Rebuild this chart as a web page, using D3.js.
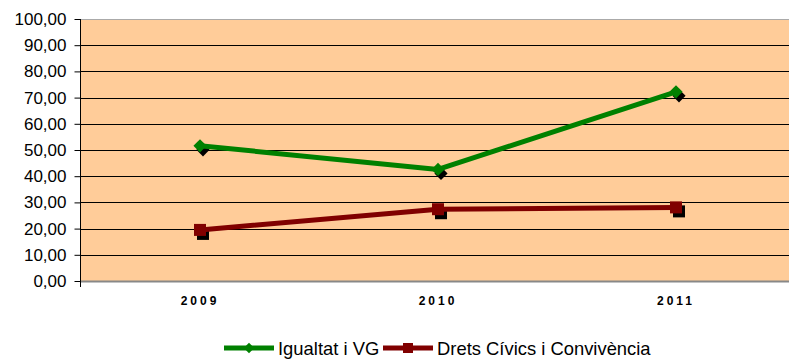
<!DOCTYPE html>
<html><head><meta charset="utf-8">
<script src="https://cdn.jsdelivr.net/npm/d3@7"></script>
<style>body{margin:0;background:#fff}svg{display:block}</style>
</head><body>
<svg id="c" width="789" height="361"></svg>
<script>
const categories = ["2009", "2010", "2011"];
const seriesNames = ["Igualtat i VG", "Drets Cívics i Convivència"];
const igualtat = [51.6, 42.6, 72.2];
const drets = [19.5, 27.4, 28.1];
const yTicks = [0, 10, 20, 30, 40, 50, 60, 70, 80, 90, 100];

(function () {
const svg = d3.select("#c");
const pL = 81, pR = 795, pT = 19, pB = 281;
const x = d3.scaleBand().domain(categories).range([pL, pR]);
const y = d3.scaleLinear().domain([0, 100]).range([pB, pT]);
const fmt = v => d3.format(".2f")(v).replace(".", ",");
const FONT = "Arial, 'Liberation Sans', sans-serif";

svg.append("rect").attr("x", pL).attr("y", pT).attr("width", pR - pL).attr("height", pB - pT).attr("fill", "#FFCC99");

// gridlines
svg.append("g").selectAll("line").data(yTicks.filter(d => d > 0 && d < 100)).join("line")
  .attr("x1", pL).attr("x2", pR).attr("y1", d => Math.round(y(d)) + 0.5).attr("y2", d => Math.round(y(d)) + 0.5)
  .attr("stroke", "#000").attr("stroke-width", 1);
// top border
svg.append("line").attr("x1", pL).attr("x2", pR).attr("y1", pT + 0.5).attr("y2", pT + 0.5).attr("stroke", "#aaa");

// y axis
const yAxis = d3.axisLeft(y).tickValues(yTicks).tickFormat(fmt).tickSize(6).tickPadding(8);
const gy = svg.append("g").attr("transform", `translate(${pL - 0.5},0)`).call(yAxis);
gy.select(".domain").attr("stroke", "#000").attr("d", `M0,${pT}V${pB + 6}`);
gy.selectAll(".tick line").attr("stroke", "#000");
gy.selectAll("text").attr("font-family", FONT).attr("font-size", 17).attr("fill", "#000");

// x axis
const xAxis = d3.axisBottom(x).tickSize(0).tickPadding(15);
const gx = svg.append("g").attr("transform", `translate(0,${pB + 0.5})`).call(xAxis);
gx.select(".domain").attr("stroke", "#888").attr("stroke-width", 2).attr("d", `M${pL},0H${pR}`);
gx.selectAll("text").attr("font-family", FONT).attr("font-size", 12)
  .attr("font-weight", "bold").attr("letter-spacing", "3px").attr("fill", "#000");

const series = [
  { name: seriesNames[0], values: igualtat, color: "#008000", shape: "diamond" },
  { name: seriesNames[1], values: drets, color: "#800000", shape: "square" }
];
const cx = c => x(c) + x.bandwidth() / 2;
const line = d3.line().x((d, i) => cx(categories[i])).y(d => y(d));
function marker(g, shape, color, px, py) {
  if (shape === "diamond") {
    g.append("path").attr("d", d3.symbol(d3.symbolDiamond2, 110)()).attr("transform", `translate(${px},${py})`).attr("fill", color);
  } else {
    g.append("rect").attr("x", px - 6).attr("y", py - 6).attr("width", 12).attr("height", 12).attr("fill", color);
  }
}
series.forEach(s => {
  const g = svg.append("g");
  s.values.forEach((v, i) => marker(g, s.shape, "#000", cx(categories[i]) + 3, y(v) + 4));
  g.append("path").attr("d", line(s.values)).attr("fill", "none").attr("stroke", s.color).attr("stroke-width", 5).attr("stroke-linejoin", "round");
  s.values.forEach((v, i) => marker(g, s.shape, s.color, cx(categories[i]), y(v)));
});

// legend
const leg = svg.append("g");
const legItems = [{ x0: 224, tx: 278 }, { x0: 383, tx: 437 }];
series.forEach((s, i) => {
  const ly = 348, it = legItems[i];
  leg.append("line").attr("x1", it.x0).attr("x2", it.x0 + 50).attr("y1", ly).attr("y2", ly).attr("stroke", s.color).attr("stroke-width", 5);
  if (s.shape === "diamond") leg.append("path").attr("d", d3.symbol(d3.symbolDiamond2, 70)()).attr("transform", `translate(${it.x0 + 25},${ly})`).attr("fill", s.color);
  else leg.append("rect").attr("x", it.x0 + 20).attr("y", ly - 5).attr("width", 10).attr("height", 10).attr("fill", s.color);
  leg.append("text").attr("x", it.tx).attr("y", ly + 7).text(s.name)
    .attr("font-family", FONT).attr("font-size", 18.4).attr("fill", "#000");
});
})();
</script>
</body></html>
